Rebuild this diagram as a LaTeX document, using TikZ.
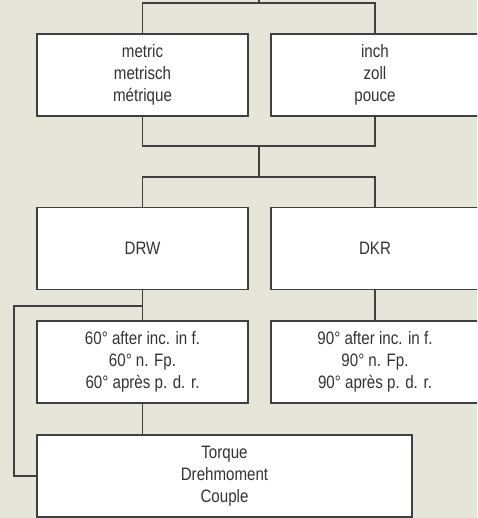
\documentclass[tikz,border=0pt]{standalone}
\usepackage{fontspec}
\setmainfont{Liberation Sans}[FakeStretch=0.84]
\definecolor{bgc}{HTML}{E6E5DA}
\definecolor{linec}{HTML}{404040}
\begin{document}
\begin{tikzpicture}[x=1pt,y=-1pt,
  box/.style={draw=linec,fill=white,line width=1.3pt,inner sep=0pt,align=center,
    font=\fontsize{18}{22}\selectfont,text=black!80,minimum height=82pt},
  sbox/.style={box,minimum width=211pt},
  conn/.style={draw=linec,line width=1.3pt}]
\fill[bgc] (0,0) rectangle (477,518);
\useasboundingbox (0,0) rectangle (477,518);
\clip (0,0) rectangle (477,518);
\node[sbox] (metric) at (142.5,75) {metric\\metrisch\\métrique};
\node[box,minimum width=208pt] (inch) at (375,75) {inch\\zoll\\pouce};
\node[sbox] (drw) at (142.5,248.5) {DRW};
\node[box,minimum width=208pt] (dkr) at (375,248.5) {DKR};
\node[sbox] (d60) at (142.5,362) {60° after inc. in f.\\60° n. Fp.\\60° après p. d. r.};
\node[box,minimum width=208pt] (d90) at (375,362) {90° after inc. in f.\\90° n. Fp.\\90° après p. d. r.};
\node[box,minimum width=375pt] (torque) at (224.5,476) {Torque\\Drehmoment\\Couple};
\coordinate (topend) at (259,-2);
\coordinate (j1) at (259,3);
\coordinate (j2) at (259,146);
\coordinate (j3) at (259,177);
\coordinate (j4) at (142.5,306);
\coordinate (side) at (14,306);
\draw[conn] (topend) -- (j1);
\draw[conn] (metric.north) |- (j1) -| (inch.north);
\draw[conn] (metric.south) |- (j2) -| (inch.south);
\draw[conn] (j2) -- (j3);
\draw[conn] (drw.north) |- (j3) -| (dkr.north);
\draw[conn] (drw.south) -- (d60.north);
\draw[conn] (dkr.south) -- (d90.north);
\draw[conn] (d60.south) -- (d60.south |- torque.north);
\draw[conn] (j4) -- (side) |- (torque.west);
\end{tikzpicture}
\end{document}
